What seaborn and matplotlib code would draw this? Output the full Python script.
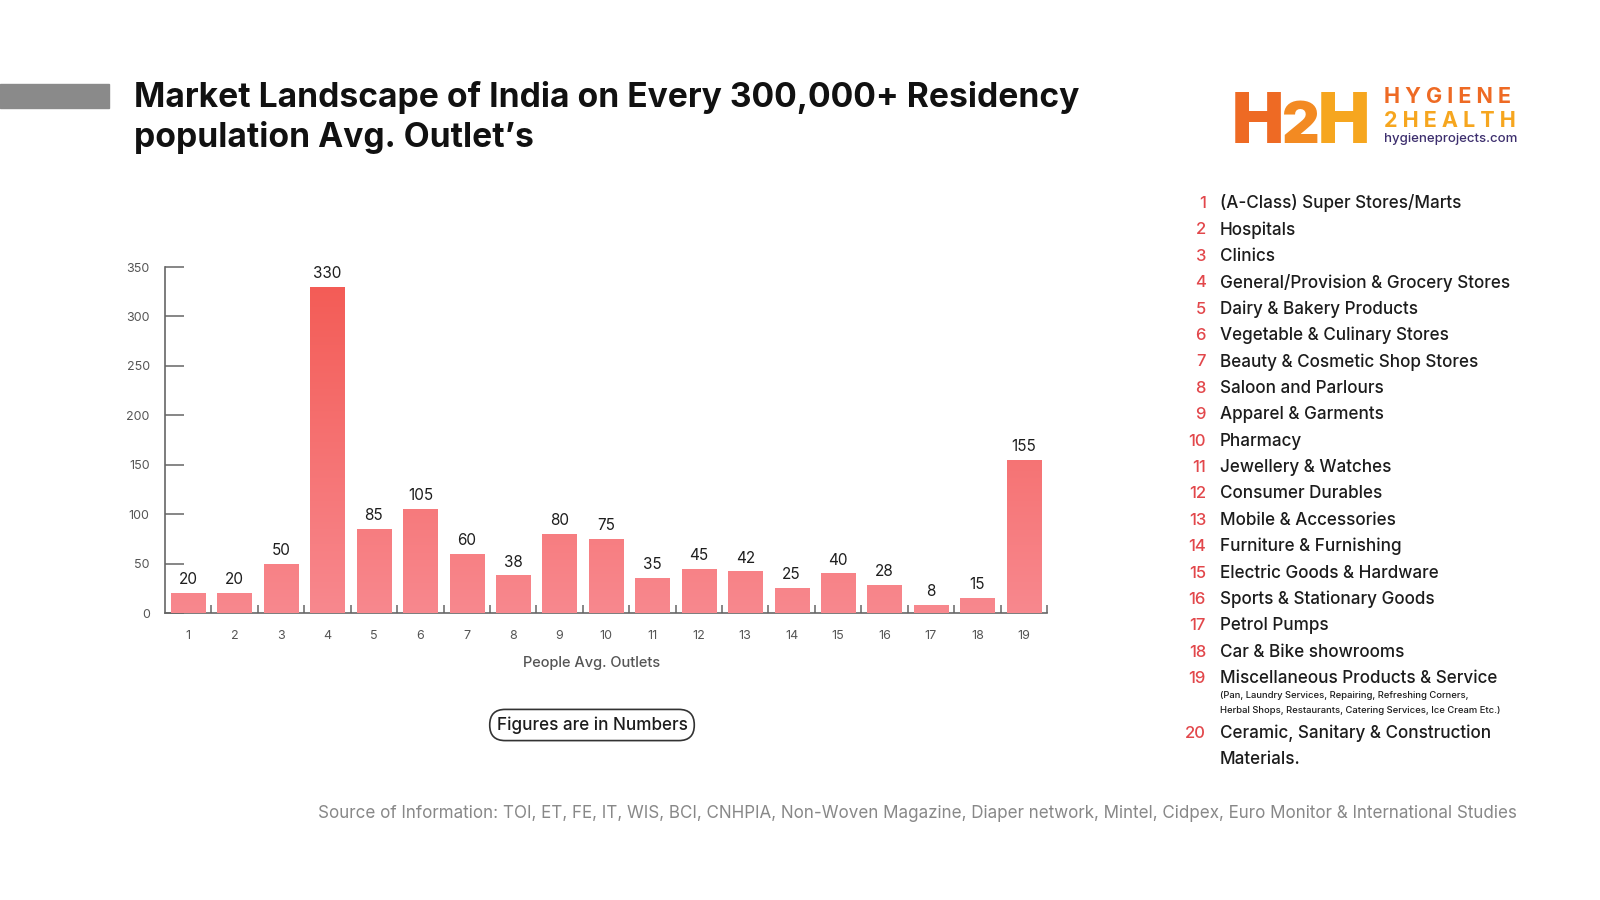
import matplotlib.pyplot as plt
import matplotlib.colors as mcolors
import numpy as np
import pandas as pd
import seaborn as sns
from matplotlib.patches import Rectangle

# data
outlet_ids = [str(i) for i in range(1, 20)]
outlet_counts = [20, 20, 50, 330, 85, 105, 60, 38, 80, 75, 35, 45, 42, 25, 40, 28, 8, 15, 155]
legend_labels = [
    "(A-Class) Super Stores/Marts",
    "Hospitals",
    "Clinics",
    "General/Provision & Grocery Stores",
    "Dairy & Bakery Products",
    "Vegetable & Culinary Stores",
    "Beauty & Cosmetic Shop Stores",
    "Saloon and Parlours",
    "Apparel & Garments",
    "Pharmacy",
    "Jewellery & Watches",
    "Consumer Durables",
    "Mobile & Accessories",
    "Furniture & Furnishing",
    "Electric Goods & Hardware",
    "Sports & Stationary Goods",
    "Petrol Pumps",
    "Car & Bike showrooms",
    "Miscellaneous Products & Service",
    "Ceramic, Sanitary & Construction\nMaterials.",
]
misc_note = ("(Pan, Laundry Services, Repairing, Refreshing Corners,\n"
             "Herbal Shops, Restaurants, Catering Services, Ice Cream Etc.)")
y_ticks = [0, 50, 100, 150, 200, 250, 300, 350]

sns.set_theme(style="white")
plt.rcParams["font.family"] = ["Inter", "DejaVu Sans"]

W, H = 1600, 900
fig = plt.figure(figsize=(16, 9), dpi=100)
fig.patch.set_facecolor("white")


def fx(x):
    return x / W


def fy(y):
    return 1 - y / H


# axes placed to match the reference
ax = fig.add_axes([fx(165), fy(613), fx(1047) - fx(165), (613 - 267) / H])
df = pd.DataFrame({"id": outlet_ids, "count": outlet_counts})
sns.barplot(data=df, x="id", y="count", color="#f4727a", width=0.74,
            saturation=1, ax=ax, zorder=2)

# vertical gradient inside each bar (darker red at high values)
cmap = mcolors.LinearSegmentedColormap.from_list("bar", ["#f8888e", "#f35b55"])
ymax = 340
for p in ax.patches:
    x0, w, h = p.get_x(), p.get_width(), p.get_height()
    grad = np.linspace(0, h / ymax, 128).reshape(-1, 1)
    im = ax.imshow(grad, extent=[x0, x0 + w, 0, h], origin="lower",
                   cmap=cmap, vmin=0, vmax=1, aspect="auto", zorder=3)
    im.set_clip_path(p)
    p.set_facecolor("none")
    p.set_edgecolor("none")
    ax.text(x0 + w / 2, h + 6, f"{int(h)}", ha="center", va="bottom",
            fontsize=11, color="#1e1e1e", zorder=4)

ax.set_xlim(-0.5, 18.5)
ax.set_ylim(0, 350)
ax.set_yticks(y_ticks)
ax.set_xticks(range(len(outlet_ids)))
ax.set_xticks(np.arange(0.5, 18.6, 1), minor=True)
ax.set_xticklabels(outlet_ids)
ax.set_xlabel("People Avg. Outlets", fontsize=10.5, color="#555555",
              fontweight="medium")
ax.xaxis.set_label_coords((592 - 165) / (1047 - 165), -0.125)
ax.set_ylabel("")
for s in ["top", "right"]:
    ax.spines[s].set_visible(False)
for s in ["left", "bottom"]:
    ax.spines[s].set_color("#666666")
    ax.spines[s].set_linewidth(1.2)
ax.tick_params(axis="y", direction="in", length=14, width=1.1, color="#666666",
               labelsize=9, labelcolor="#555555", pad=11, left=True)
ax.tick_params(axis="x", which="major", length=0, labelsize=9,
               labelcolor="#555555", pad=12, bottom=False)
ax.tick_params(axis="x", which="minor", direction="in", length=6, width=1.1,
               color="#666666", bottom=True)
ax.set_facecolor("white")
ax.grid(False)

# grey bar at the left of the title
fig.patches.append(Rectangle((0, fy(108)), fx(109), (108 - 84) / H,
                             transform=fig.transFigure, color="#8a8a8a", zorder=1))

fig.text(fx(134), fy(98), "Market Landscape of India on Every 300,000+ Residency",
         fontsize=24.2, fontweight="bold", color="#111111", va="center")
fig.text(fx(134), fy(138), "population Avg. Outlet\u2019s",
         fontsize=24.2, fontweight="bold", color="#111111", va="center")

# logo: H2H mark placed glyph after glyph
orange, yellow = "#ee6a24", "#f6a61f"
renderer = fig.canvas.get_renderer()
x_px = 1232
for ch, col, size in [("H", orange, 50), ("2", "#f38a22", 42), ("H", yellow, 50)]:
    t = fig.text(fx(x_px), fy(143), ch, fontsize=size, fontweight="black",
                 color=col, va="baseline")
    bb = t.get_window_extent(renderer)
    x_px += bb.width - 2
fig.text(fx(1384), fy(103), "H Y G I E N E", fontsize=15.5, fontweight="bold",
         color=orange, va="baseline")
fig.text(fx(1384), fy(127), "2 H E A L T H", fontsize=15.5, fontweight="bold",
         color=yellow, va="baseline")
fig.text(fx(1384), fy(142), "hygieneprojects.com", fontsize=9.5, fontweight="medium",
         color="#3d2f6e", va="baseline")

# numbered legend on the right
row_y = 203.5
step = 26.4
for i, lab in enumerate(legend_labels):
    y = row_y + i * step
    multi = "\n" in lab
    if i == 19:
        y = 734
    fig.text(fx(1206), fy(y), str(i + 1), fontsize=12, fontweight="medium",
             color="#e2474b", ha="right", va="center")
    if multi:
        fig.text(fx(1220), fy(y - 10), lab, fontsize=12.3, fontweight="medium",
                 color="#1c1c1c", ha="left", va="top", linespacing=1.75)
    else:
        fig.text(fx(1220), fy(y), lab, fontsize=12.3, fontweight="medium",
                 color="#1c1c1c", ha="left", va="center")
fig.text(fx(1220), fy(703), misc_note, fontsize=6.8, fontweight="medium",
         color="#1c1c1c", va="center", linespacing=1.9)

# "Figures are in Numbers" pill
fig.text(fx(592), fy(725), "Figures are in Numbers", fontsize=12.3, fontweight="medium",
         color="#1c1c1c", ha="center", va="center",
         bbox=dict(boxstyle="round,pad=0.4,rounding_size=0.9", fc="white",
                   ec="#333333", lw=1.2))

fig.text(fx(1517), fy(813),
         "Source of Information: TOI, ET, FE, IT, WIS, BCI, CNHPIA, Non-Woven Magazine, "
         "Diaper network, Mintel, Cidpex, Euro Monitor & International Studies",
         fontsize=12.25, color="#888888", ha="right", va="center")

fig.savefig("out.png", dpi=100, facecolor="white")
